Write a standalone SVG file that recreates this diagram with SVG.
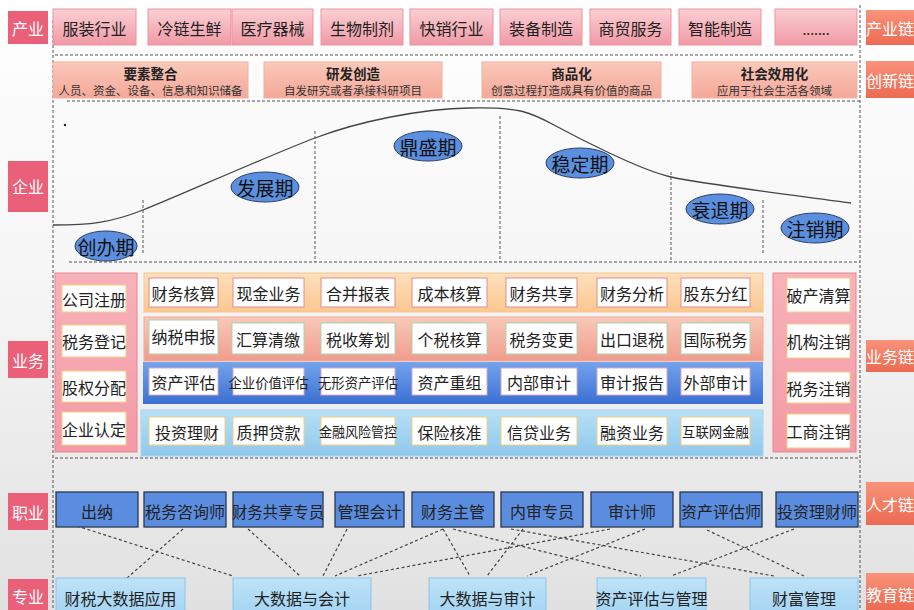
<svg xmlns="http://www.w3.org/2000/svg" width="914" height="610" viewBox="0 0 914 610">
<defs>
<linearGradient id="bg" x1="0" y1="0" x2="0" y2="1"><stop offset="0" stop-color="#ffffff"/><stop offset="0.45" stop-color="#f6f6f6"/><stop offset="1" stop-color="#e1e1e1"/></linearGradient>
<linearGradient id="gInd" x1="0" y1="0" x2="0" y2="1"><stop offset="0" stop-color="#fbd0d4"/><stop offset="1" stop-color="#f09aa6"/></linearGradient>
<linearGradient id="gChain" x1="0" y1="0" x2="0" y2="1"><stop offset="0" stop-color="#f8937a"/><stop offset="1" stop-color="#ec6a52"/></linearGradient>
<linearGradient id="gInn" x1="0" y1="0" x2="0" y2="1"><stop offset="0" stop-color="#fac8ba"/><stop offset="1" stop-color="#f4a898"/></linearGradient>
<linearGradient id="gR1" x1="0" y1="0" x2="0" y2="1"><stop offset="0" stop-color="#fde0bd"/><stop offset="1" stop-color="#fbc78f"/></linearGradient>
<linearGradient id="gR2" x1="0" y1="0" x2="0" y2="1"><stop offset="0" stop-color="#f9c8b8"/><stop offset="1" stop-color="#f09c8c"/></linearGradient>
<linearGradient id="gR3" x1="0" y1="0" x2="0" y2="1"><stop offset="0" stop-color="#74a4ec"/><stop offset="1" stop-color="#3a6fd2"/></linearGradient>
<linearGradient id="gR4" x1="0" y1="0" x2="0" y2="1"><stop offset="0" stop-color="#b8e0f6"/><stop offset="1" stop-color="#8fc8ec"/></linearGradient>
<linearGradient id="gSide" x1="0" y1="0" x2="0" y2="1"><stop offset="0" stop-color="#f8b2ba"/><stop offset="1" stop-color="#f39aa6"/></linearGradient>
<linearGradient id="gMaj" x1="0" y1="0" x2="0" y2="1"><stop offset="0" stop-color="#bfe3f8"/><stop offset="1" stop-color="#a3d4f3"/></linearGradient>
</defs>
<style>
text{font-family:"Noto Sans CJK SC","Microsoft YaHei",sans-serif;text-anchor:middle;dominant-baseline:central;fill:#222}
.lbl{fill:#ea6078}
.lbl-t{fill:#fff;font-size:16px}
.chain{fill:url(#gChain)}
.ind{fill:url(#gInd);stroke:#ec93a0;stroke-width:1}
.t16{font-size:16px}
.t15{font-size:15px}
.t14{font-size:14px}
.inn{fill:url(#gInn);stroke:#f2b0a0;stroke-width:1}
.innT{font-size:13.5px;font-weight:bold}
.innS{font-size:11.5px;fill:#333}
.dash{fill:none;stroke:#555;stroke-width:1;stroke-dasharray:3,2}
.ell{fill:#5b8fe0;stroke:#2c3e66;stroke-width:1}
.ellT{font-size:19px;fill:#111}
.wb{fill:#fff;stroke-width:1}
.b1{stroke:#e28c8c}
.b2{stroke:#a6d6b0}
.b3{stroke:#d8a8c8}
.b4{stroke:#f1cf7c}
.bs{stroke:#f3cf82}
.side{fill:url(#gSide);stroke:#e88592;stroke-width:1}
.job{fill:#5a8de0;stroke:#2b3850;stroke-width:1.3}
.maj{fill:url(#gMaj);stroke:#8cc6e8;stroke-width:1}
.con{fill:none;stroke:#444;stroke-width:1.2;stroke-dasharray:3,2.5}
</style>
<rect x="0" y="0" width="914" height="610" fill="url(#bg)"/>

<g id="frame">
<line class="dash" x1="53" y1="20" x2="53" y2="610"/>
<line class="dash" x1="860" y1="5" x2="860" y2="610"/>
<line class="dash" x1="55" y1="55" x2="853" y2="55"/>
<line class="dash" x1="67" y1="101" x2="860" y2="101"/>
<line class="dash" x1="69" y1="262" x2="860" y2="262"/>
<line class="dash" x1="55" y1="458" x2="860" y2="458"/>
</g>

<g id="left-labels">
<g id="lbl-chanye"><rect class="lbl" x="8" y="11" width="40" height="33"/><text class="lbl-t" x="28" y="27.5">产业</text></g>
<g id="lbl-qiye"><rect class="lbl" x="8" y="161" width="40" height="51"/><text class="lbl-t" x="28" y="186">企业</text></g>
<g id="lbl-yewu"><rect class="lbl" x="8" y="341" width="40" height="37"/><text class="lbl-t" x="28" y="359.5">业务</text></g>
<g id="lbl-zhiye"><rect class="lbl" x="8" y="493" width="40" height="37"/><text class="lbl-t" x="28" y="511.5">职业</text></g>
<g id="lbl-zhuanye"><rect class="lbl" x="8" y="579" width="40" height="31"/><text class="lbl-t" x="28" y="596">专业</text></g>
</g>

<g id="right-labels">
<g id="chain-chanye"><rect class="chain" x="866" y="10" width="48" height="35"/><text class="lbl-t" x="890" y="27.5">产业链</text></g>
<g id="chain-chuangxin"><rect class="chain" x="866" y="61" width="48" height="37"/><text class="lbl-t" x="890" y="79.5">创新链</text></g>
<g id="chain-yewu"><rect class="chain" x="866" y="340" width="48" height="32"/><text class="lbl-t" x="890" y="356">业务链</text></g>
<g id="chain-rencai"><rect class="chain" x="866" y="482" width="48" height="43"/><text class="lbl-t" x="890" y="503.5">人才链</text></g>
<g id="chain-jiaoyu"><rect class="chain" x="866" y="573" width="48" height="37"/><text class="lbl-t" x="890" y="594">教育链</text></g>
</g>

<g id="industry">
<g id="ind-1"><rect class="ind" x="53" y="9" width="83" height="36"/><text class="t16" x="94.5" y="28">服装行业</text></g>
<g id="ind-2"><rect class="ind" x="148" y="9" width="83" height="36"/><text class="t16" x="189.5" y="28">冷链生鲜</text></g>
<g id="ind-3"><rect class="ind" x="232" y="9" width="81" height="36"/><text class="t16" x="272.5" y="28">医疗器械</text></g>
<g id="ind-4"><rect class="ind" x="321" y="9" width="82" height="36"/><text class="t16" x="362" y="28">生物制剂</text></g>
<g id="ind-5"><rect class="ind" x="410" y="9" width="83" height="36"/><text class="t16" x="451.5" y="28">快销行业</text></g>
<g id="ind-6"><rect class="ind" x="500" y="9" width="82" height="36"/><text class="t16" x="541" y="28">装备制造</text></g>
<g id="ind-7"><rect class="ind" x="590" y="9" width="81" height="36"/><text class="t16" x="630.5" y="28">商贸服务</text></g>
<g id="ind-8"><rect class="ind" x="679" y="9" width="82" height="36"/><text class="t16" x="720" y="28">智能制造</text></g>
<g id="ind-9"><rect class="ind" x="775" y="9" width="82" height="36"/><text class="t14" x="816" y="29">.......</text></g>
</g>

<g id="innovation">
<g id="inn-1"><rect class="inn" x="53" y="62" width="195" height="36"/><text class="innT" x="150.5" y="73">要素整合</text><text class="innS" x="150.5" y="90">人员、资金、设备、信息和知识储备</text></g>
<g id="inn-2"><rect class="inn" x="264" y="62" width="178" height="36"/><text class="innT" x="353" y="73">研发创造</text><text class="innS" x="353" y="90">自发研究或者承接科研项目</text></g>
<g id="inn-3"><rect class="inn" x="482" y="62" width="179" height="36"/><text class="innT" x="571.5" y="73">商品化</text><text class="innS" x="571.5" y="90">创意过程打造成具有价值的商品</text></g>
<g id="inn-4"><rect class="inn" x="692" y="62" width="165" height="36"/><text class="innT" x="774.5" y="73">社会效用化</text><text class="innS" x="774.5" y="90">应用于社会生活各领域</text></g>
</g>

<g id="lifecycle">
<path d="M53,225 C90,225 110,223 143,210 S270,155 315,138 S420,109 470,108 S530,112 554,125 S640,170 671,177 S800,196 851,203" fill="none" stroke="#444" stroke-width="1.3"/>
<circle cx="65" cy="125" r="1.2" fill="#222"/>
<line class="dash" x1="143" y1="200" x2="143" y2="255"/>
<line class="dash" x1="315" y1="131" x2="315" y2="262"/>
<line class="dash" x1="500" y1="116" x2="500" y2="262"/>
<line class="dash" x1="671" y1="172" x2="671" y2="262"/>
<line class="dash" x1="763" y1="200" x2="763" y2="255" stroke="#888"/>
<g id="stage-1"><ellipse class="ell" cx="106" cy="246" rx="31" ry="15"/><text class="ellT" x="106" y="246">创办期</text></g>
<g id="stage-2"><ellipse class="ell" cx="265" cy="187" rx="34" ry="15"/><text class="ellT" x="265" y="187">发展期</text></g>
<g id="stage-3"><ellipse class="ell" cx="428" cy="146" rx="34" ry="15"/><text class="ellT" x="428" y="146">鼎盛期</text></g>
<g id="stage-4"><ellipse class="ell" cx="580" cy="163" rx="34" ry="15"/><text class="ellT" x="580" y="163">稳定期</text></g>
<g id="stage-5"><ellipse class="ell" cx="720" cy="209" rx="34" ry="15"/><text class="ellT" x="720" y="209">衰退期</text></g>
<g id="stage-6"><ellipse class="ell" cx="815" cy="228" rx="34" ry="15"/><text class="ellT" x="815" y="228">注销期</text></g>
</g>

<g id="business">
<g id="panel-left"><rect class="side" x="55" y="273" width="82" height="179"/>
<rect class="wb bs" x="62" y="285" width="64" height="27"/><text class="t16" x="94" y="298.5">公司注册</text>
<rect class="wb bs" x="62" y="325" width="64" height="32"/><text class="t16" x="94" y="341">税务登记</text>
<rect class="wb bs" x="62" y="371" width="64" height="31"/><text class="t16" x="94" y="386.5">股权分配</text>
<rect class="wb bs" x="62" y="412" width="64" height="33"/><text class="t16" x="94" y="428.5">企业认定</text>
</g>
<g id="panel-right"><rect class="side" x="773" y="273" width="83" height="179"/>
<rect class="wb bs" x="787" y="278" width="63" height="34"/><text class="t16" x="818.5" y="295">破产清算</text>
<rect class="wb bs" x="787" y="324" width="63" height="34"/><text class="t16" x="818.5" y="341">机构注销</text>
<rect class="wb bs" x="787" y="372" width="63" height="31"/><text class="t16" x="818.5" y="387.5">税务注销</text>
<rect class="wb bs" x="787" y="414" width="63" height="34"/><text class="t16" x="818.5" y="431">工商注销</text>
</g>
<g id="band-accounting"><rect x="144" y="273" width="619" height="39" fill="url(#gR1)" stroke="#f6c58e" stroke-width="1"/>
<rect class="wb b1" x="149" y="278" width="69" height="29"/><text class="t16" x="183.5" y="292.5">财务核算</text>
<rect class="wb b1" x="233" y="278" width="71" height="29"/><text class="t16" x="268.5" y="292.5">现金业务</text>
<rect class="wb b1" x="321" y="278" width="74" height="29"/><text class="t16" x="358" y="292.5">合并报表</text>
<rect class="wb b1" x="412" y="278" width="75" height="29"/><text class="t16" x="449.5" y="292.5">成本核算</text>
<rect class="wb b1" x="506" y="278" width="71" height="29"/><text class="t16" x="541.5" y="292.5">财务共享</text>
<rect class="wb b1" x="597" y="278" width="70" height="29"/><text class="t16" x="632" y="292.5">财务分析</text>
<rect class="wb b1" x="681" y="278" width="69" height="29"/><text class="t16" x="715.5" y="292.5">股东分红</text>
</g>
<g id="band-tax"><rect x="144" y="317" width="619" height="44" fill="url(#gR2)" stroke="#f2aa9a" stroke-width="1"/>
<rect class="wb b2" x="149" y="320" width="69" height="34"/><text class="t16" x="183.5" y="336">纳税申报</text>
<rect class="wb b2" x="232" y="323" width="72" height="31"/><text class="t16" x="268" y="339">汇算清缴</text>
<rect class="wb b2" x="321" y="323" width="74" height="31"/><text class="t16" x="358" y="339">税收筹划</text>
<rect class="wb b2" x="412" y="323" width="75" height="31"/><text class="t16" x="449.5" y="339">个税核算</text>
<rect class="wb b2" x="506" y="323" width="71" height="31"/><text class="t16" x="541.5" y="339">税务变更</text>
<rect class="wb b2" x="597" y="323" width="70" height="31"/><text class="t16" x="632" y="339">出口退税</text>
<rect class="wb b2" x="681" y="323" width="69" height="31"/><text class="t16" x="715.5" y="339">国际税务</text>
</g>
<g id="band-audit"><rect x="143" y="362" width="620" height="42" fill="url(#gR3)"/>
<rect class="wb b3" x="149" y="368" width="69" height="27"/><text class="t16" x="183.5" y="382">资产评估</text>
<rect class="wb b3" x="233" y="368" width="71" height="27"/><text class="t14" x="268.5" y="382" textLength="80" lengthAdjust="spacingAndGlyphs">企业价值评估</text>
<rect class="wb b3" x="321" y="368" width="74" height="27"/><text class="t14" x="358" y="382" textLength="80" lengthAdjust="spacingAndGlyphs">无形资产评估</text>
<rect class="wb b3" x="412" y="368" width="75" height="27"/><text class="t16" x="449.5" y="382">资产重组</text>
<rect class="wb b3" x="501" y="368" width="76" height="27"/><text class="t16" x="539" y="382">内部审计</text>
<rect class="wb b3" x="597" y="368" width="70" height="27"/><text class="t16" x="632" y="382">审计报告</text>
<rect class="wb b3" x="681" y="368" width="69" height="27"/><text class="t16" x="715.5" y="382">外部审计</text>
</g>
<g id="band-finance"><rect x="141" y="410" width="622" height="46" fill="url(#gR4)" stroke="#a8d6f0" stroke-width="1"/>
<rect class="wb b4" x="149" y="417" width="76" height="28"/><text class="t16" x="187" y="431.5">投资理财</text>
<rect class="wb b4" x="233" y="417" width="71" height="28"/><text class="t16" x="268.5" y="431.5">质押贷款</text>
<rect class="wb b4" x="321" y="417" width="74" height="28"/><text class="t14" x="358" y="430.5" textLength="78" lengthAdjust="spacingAndGlyphs">金融风险管控</text>
<rect class="wb b4" x="412" y="417" width="75" height="28"/><text class="t16" x="449.5" y="431.5">保险核准</text>
<rect class="wb b4" x="501" y="417" width="76" height="28"/><text class="t16" x="539" y="431.5">信贷业务</text>
<rect class="wb b4" x="597" y="417" width="70" height="28"/><text class="t16" x="632" y="431.5">融资业务</text>
<rect class="wb b4" x="681" y="417" width="69" height="28"/><text class="t14" x="715.5" y="431" textLength="67" lengthAdjust="spacingAndGlyphs">互联网金融</text>
</g>
</g>

<g id="connectors">
<line class="con" x1="77" y1="526" x2="233" y2="576"/>
<line class="con" x1="183" y1="529" x2="127" y2="578"/>
<line class="con" x1="248" y1="529" x2="300" y2="576"/>
<line class="con" x1="347" y1="529" x2="323" y2="576"/>
<line class="con" x1="443" y1="529" x2="335" y2="576"/>
<line class="con" x1="443" y1="529" x2="470" y2="576"/>
<line class="con" x1="453" y1="529" x2="641" y2="576"/>
<line class="con" x1="523" y1="529" x2="487" y2="576"/>
<line class="con" x1="511" y1="529" x2="774" y2="576"/>
<line class="con" x1="610" y1="529" x2="357" y2="576"/>
<line class="con" x1="645" y1="529" x2="527" y2="576"/>
<line class="con" x1="707" y1="530" x2="804" y2="576"/>
<line class="con" x1="794" y1="529" x2="671" y2="576"/>
</g>

<g id="jobs">
<g id="job-1"><rect class="job" x="56" y="492" width="82" height="35"/><text class="t16" x="97" y="511">出纳</text></g>
<g id="job-2"><rect class="job" x="144" y="492" width="82" height="35"/><text class="t16" x="185" y="511">税务咨询师</text></g>
<g id="job-3"><rect class="job" x="233" y="492" width="90" height="35"/><text class="t16" x="278" y="511" textLength="92" lengthAdjust="spacingAndGlyphs">财务共享专员</text></g>
<g id="job-4"><rect class="job" x="335" y="492" width="69" height="35"/><text class="t16" x="369.5" y="511">管理会计</text></g>
<g id="job-5"><rect class="job" x="412" y="492" width="82" height="35"/><text class="t16" x="453" y="511">财务主管</text></g>
<g id="job-6"><rect class="job" x="501" y="492" width="82" height="35"/><text class="t16" x="542" y="511">内审专员</text></g>
<g id="job-7"><rect class="job" x="591" y="492" width="82" height="35"/><text class="t16" x="632" y="511">审计师</text></g>
<g id="job-8"><rect class="job" x="680" y="492" width="82" height="35"/><text class="t16" x="721" y="511">资产评估师</text></g>
<g id="job-9"><rect class="job" x="776" y="492" width="82" height="35"/><text class="t16" x="817" y="511">投资理财师</text></g>
</g>

<g id="majors">
<g id="maj-1"><rect class="maj" x="56" y="578" width="129" height="36"/><text class="t16" x="120.5" y="598">财税大数据应用</text></g>
<g id="maj-2"><rect class="maj" x="233" y="578" width="138" height="36"/><text class="t16" x="302" y="598">大数据与会计</text></g>
<g id="maj-3"><rect class="maj" x="429" y="578" width="117" height="36"/><text class="t16" x="487.5" y="598">大数据与审计</text></g>
<g id="maj-4"><rect class="maj" x="597" y="578" width="109" height="36"/><text class="t16" x="651.5" y="598">资产评估与管理</text></g>
<g id="maj-5"><rect class="maj" x="750" y="578" width="108" height="36"/><text class="t16" x="804" y="598">财富管理</text></g>
</g>
</svg>
